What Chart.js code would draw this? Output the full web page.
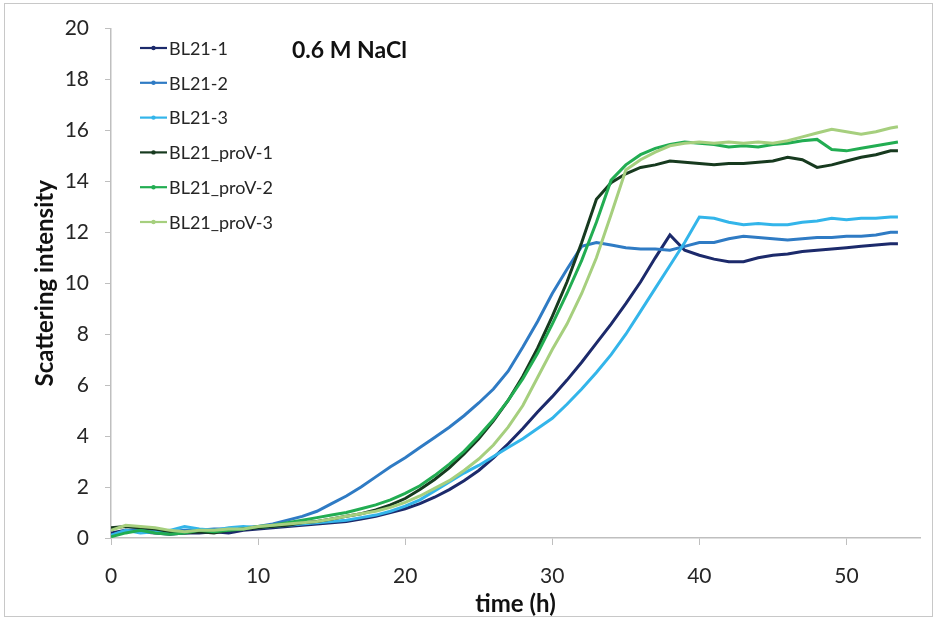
<!DOCTYPE html>
<html>
<head>
<meta charset="utf-8">
<script src="https://cdn.jsdelivr.net/npm/chart.js@4.4.1/dist/chart.umd.min.js"></script>
<style>
  body { margin: 0; background: #fff; }
  #wrap { position: relative; width: 937px; height: 621px; }
  #frame { position: absolute; left: 4px; top: 3px; width: 927px; height: 612px; border: 1px solid #c8c8c8; pointer-events: none; }
</style>
</head>
<body>
<div id="wrap">
  <canvas id="scatterChart" width="937" height="621"></canvas>
  <div id="frame"></div>
</div>
<script>
// time points (h)
const hours = [0,1,2,3,4,5,6,7,8,9,10,11,12,13,14,15,16,17,18,19,20,21,22,23,24,25,26,27,28,29,
  30,31,32,33,34,35,36,37,38,39,40,41,42,43,44,45,46,47,48,49,50,51,52,53,53.5];

const seriesNames = ['BL21-1', 'BL21-2', 'BL21-3', 'BL21_proV-1', 'BL21_proV-2', 'BL21_proV-3'];
const seriesColors = ['#1c2a6b', '#2f7bc4', '#33b5ea', '#173a1f', '#22ad52', '#a6cf7e'];

const bl21_1 = [0.2,0.3,0.25,0.2,0.15,0.2,0.2,0.25,0.2,0.3,
  0.35,0.4,0.45,0.5,0.55,0.6,0.65,0.75,0.85,1.0,
  1.15,1.35,1.6,1.9,2.25,2.65,3.15,3.7,4.3,4.95,
  5.55,6.2,6.9,7.65,8.4,9.2,10.05,11.0,11.9,11.3,
  11.1,10.95,10.85,10.85,11.0,11.1,11.15,11.25,11.3,11.35,
  11.4,11.45,11.5,11.55,11.55];
const bl21_2 = [0.1,0.3,0.35,0.3,0.25,0.3,0.3,0.35,0.35,0.4,
  0.45,0.55,0.7,0.85,1.05,1.35,1.65,2.0,2.4,2.8,
  3.15,3.55,3.95,4.35,4.8,5.3,5.85,6.55,7.5,8.5,
  9.6,10.55,11.45,11.6,11.5,11.4,11.35,11.35,11.3,11.45,
  11.6,11.6,11.75,11.85,11.8,11.75,11.7,11.75,11.8,11.8,
  11.85,11.85,11.9,12.0,12.0];
const bl21_3 = [0.1,0.3,0.2,0.25,0.3,0.45,0.35,0.3,0.4,0.45,
  0.4,0.45,0.5,0.55,0.6,0.65,0.7,0.8,0.9,1.05,
  1.25,1.5,1.85,2.2,2.55,2.85,3.2,3.55,3.9,4.3,
  4.7,5.25,5.85,6.5,7.2,8.0,8.9,9.8,10.7,11.6,
  12.6,12.55,12.4,12.3,12.35,12.3,12.3,12.4,12.45,12.55,
  12.5,12.55,12.55,12.6,12.6];
const proV_1 = [0.4,0.45,0.4,0.35,0.25,0.2,0.25,0.2,0.3,0.35,
  0.4,0.45,0.5,0.6,0.65,0.75,0.85,0.95,1.1,1.3,
  1.55,1.9,2.3,2.75,3.3,3.9,4.6,5.4,6.35,7.45,
  8.7,10.05,11.6,13.3,13.95,14.3,14.55,14.65,14.8,14.75,
  14.7,14.65,14.7,14.7,14.75,14.8,14.95,14.85,14.55,14.65,
  14.8,14.95,15.05,15.2,15.2];
const proV_2 = [0.05,0.2,0.3,0.2,0.15,0.2,0.3,0.25,0.3,0.35,
  0.45,0.5,0.6,0.7,0.8,0.9,1.0,1.15,1.3,1.5,
  1.75,2.05,2.45,2.9,3.4,4.0,4.65,5.4,6.25,7.25,
  8.4,9.6,10.9,12.4,14.05,14.65,15.05,15.3,15.45,15.55,
  15.5,15.45,15.35,15.4,15.35,15.45,15.5,15.6,15.65,15.25,
  15.2,15.3,15.4,15.5,15.55];
const proV_3 = [0.3,0.5,0.45,0.4,0.3,0.25,0.3,0.3,0.35,0.35,
  0.45,0.5,0.55,0.6,0.65,0.75,0.85,0.95,1.05,1.2,
  1.4,1.65,1.95,2.25,2.65,3.1,3.65,4.35,5.2,6.3,
  7.4,8.4,9.6,11.0,12.7,14.45,14.85,15.15,15.4,15.5,
  15.55,15.5,15.55,15.5,15.55,15.5,15.6,15.75,15.9,16.05,
  15.95,15.85,15.95,16.1,16.15];

const allSeries = [bl21_1, bl21_2, bl21_3, proV_1, proV_2, proV_3];
const conditionLabel = '0.6 M NaCl';

const axisGrey = '#bfbfbf';
const textColor = '#262626';

// legend drawn inside the plot, as a column at top-left
const insideLegend = {
  id: 'insideLegend',
  afterDraw(chart) {
    const ctx = chart.ctx;
    ctx.save();
    chart.data.datasets.forEach((ds, i) => {
      const y = 48 + i * 34.8;
      ctx.strokeStyle = ds.borderColor;
      ctx.lineWidth = 2.2;
      ctx.beginPath();
      ctx.moveTo(140, y);
      ctx.lineTo(167, y);
      ctx.stroke();
      ctx.fillStyle = ds.borderColor;
      ctx.beginPath();
      ctx.arc(153.5, y, 2.2, 0, Math.PI * 2);
      ctx.fill();
      ctx.fillStyle = textColor;
      ctx.font = '18px Lato';
      ctx.textBaseline = 'middle';
      ctx.fillText(ds.label, 169, y + 1);
    });
    ctx.fillStyle = '#111';
    ctx.font = 'bold 23px Lato';
    ctx.textBaseline = 'middle';
    ctx.fillText(conditionLabel, 292, 51);
    ctx.restore();
  }
};

new Chart(document.getElementById('scatterChart'), {
  type: 'line',
  data: {
    datasets: allSeries.map((vals, i) => ({
      label: seriesNames[i],
      data: hours.map((h, j) => ({ x: h, y: vals[j] })),
      borderColor: seriesColors[i],
      backgroundColor: seriesColors[i],
      borderWidth: 3,
      pointRadius: 0,
      tension: 0,
      fill: false,
      order: allSeries.length - i
    }))
  },
  options: {
    responsive: false,
    animation: false,
    devicePixelRatio: 1,
    layout: { padding: { top: 28, right: 17, left: 0, bottom: 0 }, autoPadding: false },
    plugins: { legend: { display: false }, tooltip: { enabled: false } },
    scales: {
      x: {
        type: 'linear',
        min: 0, max: 55,
        afterFit: (scale) => { scale.height = 83; },
        ticks: { stepSize: 10, includeBounds: false, color: textColor, padding: 19,
          font: { family: 'Lato', size: 21 } },
        grid: { drawOnChartArea: false, drawTicks: true, tickLength: 7, color: axisGrey },
        border: { display: true, color: axisGrey, width: 1.5 },
        title: { display: true, text: 'time (h)', color: '#111', padding: { top: 0, bottom: 2 },
          font: { family: 'Lato', size: 24, weight: 'bold' } }
      },
      y: {
        min: 0, max: 20,
        afterFit: (scale) => { scale.width = 111; },
        ticks: { stepSize: 2, color: textColor, padding: 16,
          font: { family: 'Lato', size: 21 } },
        grid: { drawOnChartArea: false, drawTicks: true, tickLength: 6, color: axisGrey },
        border: { display: true, color: axisGrey, width: 1.5 },
        title: { display: true, text: 'Scattering intensity', color: '#111', padding: { top: 31, bottom: 0 },
          font: { family: 'Lato', size: 24, weight: 'bold' } }
      }
    }
  },
  plugins: [insideLegend]
});
</script>
</body>
</html>
